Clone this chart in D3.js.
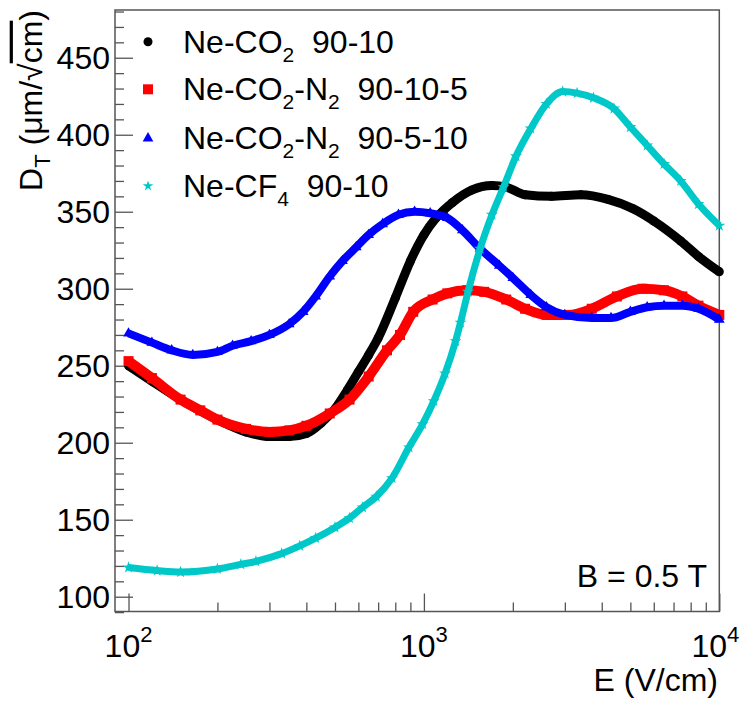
<html>
<script src="https://d3js.org/d3.v7.min.js"></script>
<style>
body { margin: 0; background: #fff; }
text { font-family: "Liberation Sans", Arial, sans-serif; fill: #000; white-space: pre; }
</style>
<body>
<svg width="740" height="701"></svg>
<script>
// data (E in V/cm, D_T in um/sqrt(cm))
var E_co2 = [100,120,150,200,250,300,350,400,450,500,550,600,650,700,800,900,1000,1100,1250,1450,1700,1900,2200,2700,3400,4200,5100,6000,7400,8500,10000];
var D_co2 = [250,240,228,215,207,204,204,206,213,222,234,246,257,268,294,318,335,346,356,364,367,366,361,360,361,358,352,344,331,321,311];

var E_n2a = [100,120,150,175,200,250,300,350,400,480,560,650,750,830,920,1070,1200,1400,1600,1900,2200,2600,3100,3700,4500,5500,6500,7500,8500,10000];
var D_n2a = [253,242,228,221,215,209,207,208,211,219,228,243,260,270,285,293,297,299,298,293,287,283,283,287,295,300,299,295,289,283];

var E_n2b = [100,120,140,165,200,225,260,300,350,390,430,480,530,590,650,725,820,930,1050,1200,1350,1550,1800,2000,2300,2600,3000,3700,4300,5000,5700,6500,7500,8500,10000];
var D_n2b = [271,265,260,257,259,263,266,270,277,285,295,308,318,327,335,342,348,350,349,346,338,326,315,307,296,288,283,281,281,285,288,289,289,287,280];

var E_cf4 = [100,125,150,200,240,270,330,380,430,500,560,620,690,780,890,990,1080,1180,1280,1330,1410,1550,1700,1860,2050,2300,2600,2950,3300,3750,4400,5000,5700,6500,7400,8500,10000];
var D_cf4 = [119,117,116,118,121,123,128,133,138,145,151,158,165,177,197,212,227,245,266,278,298,326,348,366,386,404,420,428,427,424,417,405,393,381,370,355,341];

var legendLabels = ["Ne-CO_{2}  90-10", "Ne-CO_{2}-N_{2}  90-10-5", "Ne-CO_{2}-N_{2}  90-5-10", "Ne-CF_{4}  90-10"];
var xMajor = [100, 1000, 10000];
var xExp = ["2", "3", "4"];
var xMinor = [200,300,400,500,600,700,800,900,2000,3000,4000,5000,6000,7000,8000,9000];
var yMajor = [100,150,200,250,300,350,400,450];

var series = [
  {E: E_co2, D: D_co2, color: "#000000", sym: d3.symbolCircle, size: 64, width: 9},
  {E: E_n2a, D: D_n2a, color: "#ff0000", sym: d3.symbolSquare, size: 100, width: 10},
  {E: E_n2b, D: D_n2b, color: "#0000ff", sym: d3.symbolTriangle, size: 50, width: 8},
  {E: E_cf4, D: D_cf4, color: "#00c8c8", sym: d3.symbolStar, size: 45, width: 7}
];

var svg = d3.select("svg");
var L = 115, T = 10, R = 719.3, B = 611.5;
var frameCol = "#555";

var x = d3.scaleLog().domain([90, 10000]).range([L, R]);
var y = d3.scaleLinear().domain([90.4, 481]).range([B, T]);

// frame
svg.append("rect").attr("x", L).attr("y", T).attr("width", R - L).attr("height", B - T)
  .attr("fill", "none").attr("stroke", frameCol).attr("stroke-width", 1.5);

// ticks
function tickStyle(g) {
  g.select(".domain").remove();
  g.selectAll("line").attr("stroke", frameCol).attr("stroke-width", 1.3);
}
svg.append("g").attr("transform", "translate(0," + B + ")")
  .call(d3.axisBottom(x).tickValues(xMajor).tickSize(-18).tickFormat("")).call(tickStyle);
svg.append("g").attr("transform", "translate(0," + B + ")")
  .call(d3.axisBottom(x).tickValues(xMinor).tickSize(-9).tickFormat("")).call(tickStyle);
svg.append("g").attr("transform", "translate(" + L + ",0)")
  .call(d3.axisLeft(y).tickValues(yMajor).tickSize(-18).tickFormat("")).call(tickStyle);
svg.append("g").attr("transform", "translate(" + L + ",0)")
  .call(d3.axisLeft(y).tickValues(d3.range(90, 481, 10).filter(function (v) { return v % 50 != 0; }))
    .tickSize(-9).tickFormat("")).call(tickStyle);

// tick labels
svg.append("g").selectAll("text").data(yMajor).enter().append("text")
  .attr("x", 110).attr("y", function (d) { return y(d) + 11.5; })
  .attr("text-anchor", "end").style("font-size", "32px")
  .text(function (d) { return d; });

var xl = svg.append("g").selectAll("text").data(xMajor).enter().append("text")
  .attr("x", function (d, i) { return x(d) - (i == xMajor.length - 1 ? 4 : 0); }).attr("y", 656.5)
  .attr("text-anchor", "middle").style("font-size", "32px");
xl.append("tspan").text("10");
xl.append("tspan").attr("dy", -15).style("font-size", "22px").text(function (d, i) { return xExp[i]; });

// axis titles
svg.append("text").attr("x", 718).attr("y", 691).attr("text-anchor", "end")
  .style("font-size", "32px").text("E (V/cm)");

var yt = svg.append("text").attr("transform", "translate(41.7,10) rotate(-90)")
  .attr("text-anchor", "end").style("font-size", "32px");
yt.append("tspan").text("D");
yt.append("tspan").attr("dy", 8).style("font-size", "22px").text("T");
yt.append("tspan").attr("dy", -8).text(" (\u03bcm/\u221a");
yt.append("tspan").style("text-decoration", "overline").text("cm");
yt.append("tspan").text(")");

svg.append("text").attr("x", 707).attr("y", 586.7).attr("text-anchor", "end")
  .style("font-size", "32px").text("B = 0.5 T");

// curves
var line = d3.line().curve(d3.curveMonotoneX)
  .x(function (d) { return x(d[0]); }).y(function (d) { return y(d[1]); });

series.forEach(function (s) {
  var pts = s.E.map(function (e, i) { return [e, s.D[i]]; });
  var g = svg.append("g");
  g.append("path").datum(pts).attr("d", line).attr("fill", "none")
    .attr("stroke", s.color).attr("stroke-width", s.width).attr("stroke-linejoin", "round");
  g.selectAll("path.m").data(pts).enter().append("path").attr("class", "m")
    .attr("transform", function (d) { return "translate(" + x(d[0]) + "," + y(d[1]) + ")"; })
    .attr("d", d3.symbol().type(s.sym).size(s.size)).attr("fill", s.color);
});

// legend
var legY = [41.7, 89.3, 138.3, 186];
legendLabels.forEach(function (lab, i) {
  var s = series[i];
  svg.append("path").attr("transform", "translate(148," + legY[i] + ")")
    .attr("d", d3.symbol().type(s.sym).size(s.sym === d3.symbolStar ? 34 : s.size)).attr("fill", s.color);
  var t = svg.append("text").attr("x", 183).attr("y", legY[i] + 11).style("font-size", "32px");
  lab.split(/(_\{[^}]*\})/).forEach(function (part) {
    if (!part) return;
    if (part[0] === "_") {
      t.append("tspan").attr("dy", 9).style("font-size", "21px").text(part.slice(2, -1));
    } else {
      var sp = t.append("tspan").text(part);
      if (t.selectAll("tspan").size() > 1) sp.attr("dy", -9);
    }
  });
});
</script>
</body>
</html>
